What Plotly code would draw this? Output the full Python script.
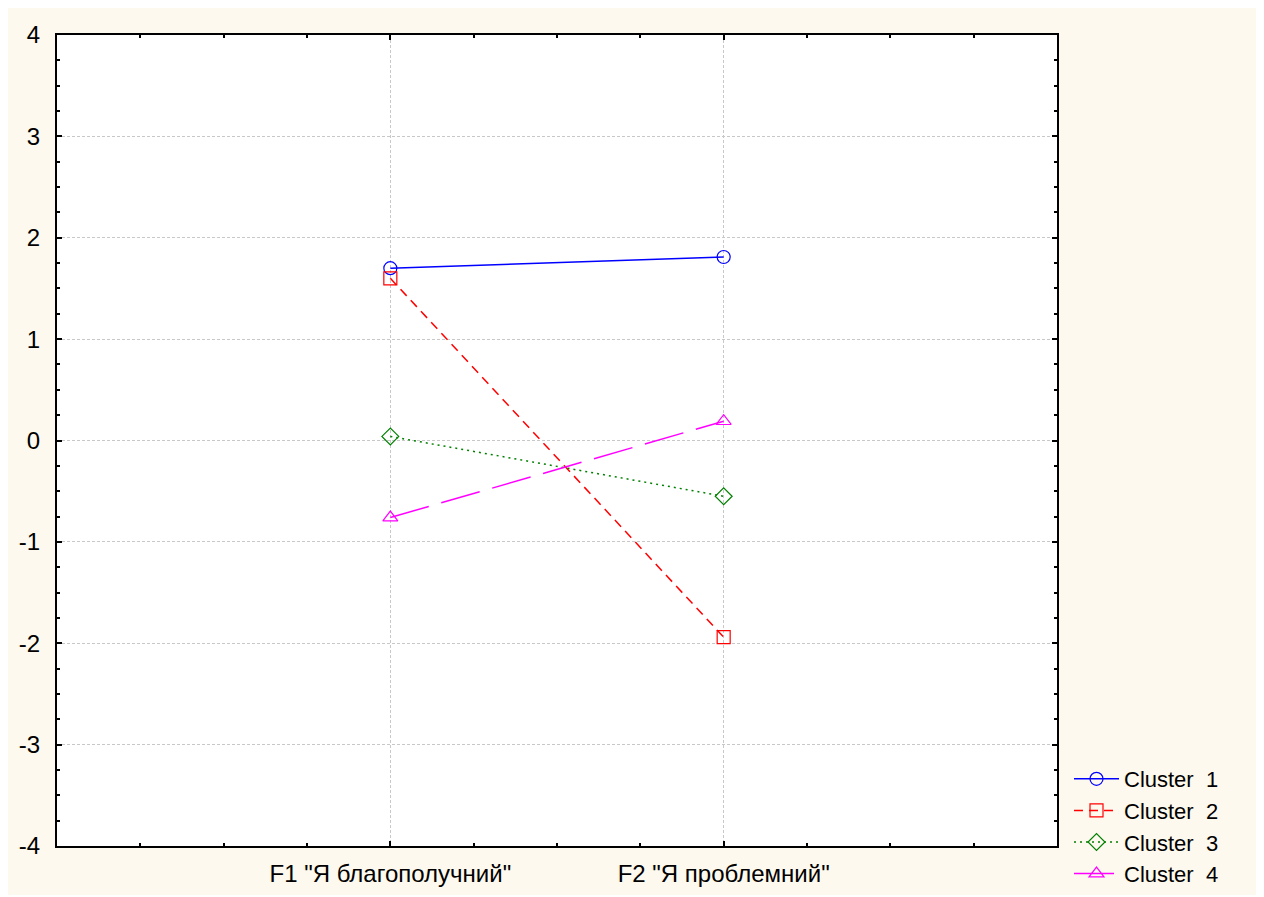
import plotly.graph_objects as go

categories = ['F1 "Я благополучний"', 'F2 "Я проблемний"']
cluster_names = ["Cluster  1", "Cluster  2", "Cluster  3", "Cluster  4"]
cluster1 = [1.70, 1.81]
cluster2 = [1.60, -1.94]
cluster3 = [0.04, -0.55]
cluster4 = [-0.76, 0.19]
y_ticks = [-4, -3, -2, -1, 0, 1, 2, 3, 4]
y_tick_labels = ["-4", "-3", "-2", "-1", "0", "1", "2", "3", "4"]

series = [cluster1, cluster2, cluster3, cluster4]
colors = ["#0000ff", "#ff0000", "#008000", "#ff00ff"]
dashes = ["solid", "9px,6px", "2px,4px", "40px,13px"]
symbols = ["circle-open", "square-open", "diamond-open", "triangle-up-open"]

xpos = list(range(len(categories)))

fig = go.Figure()
for name, vals, c, d, s in zip(cluster_names, series, colors, dashes, symbols):
    fig.add_trace(go.Scatter(
        x=xpos, y=vals, name=name, mode="lines+markers",
        line=dict(color=c, width=1.5, dash=d),
        marker=dict(symbol=s, size=13, color=c, line=dict(width=1.2, color=c)),
    ))

# page has an 8px body margin; figure is placed at (8, 8)
W, H = 1250, 887
L, R, T, B = 49, 201, 27, 49
pw, ph = W - L - R, H - T - B

def px_x(p):
    return (p - 8 - L) / pw

def px_y(p):
    return (H - B - (p - 8)) / ph

cream = "#fdf9ee"
fig.update_layout(
    width=W, height=H,
    margin=dict(l=L, r=R, t=T, b=B, pad=0, autoexpand=False),
    paper_bgcolor=cream,
    plot_bgcolor="white",
    font=dict(family="Arial, Liberation Sans, sans-serif", size=24, color="black"),
    showlegend=True,
    legend=dict(
        x=px_x(1069), y=px_y(895), xanchor="left", yanchor="bottom",
        bgcolor="rgba(0,0,0,0)", font=dict(size=22),
        itemwidth=45, tracegroupgap=0,
    ),
)

fig.update_xaxes(
    range=[-1, 2], tickvals=xpos, ticktext=categories, automargin=False,
    showgrid=True, gridcolor="#c8c8c8", griddash="3px,2px", gridwidth=1,
    showline=True, linecolor="black", linewidth=2, mirror="ticks",
    ticks="inside", ticklen=5, tickcolor="black", tickwidth=2,
    ticklabelstandoff=5,
    minor=dict(dtick=0.25, tick0=0, ticks="inside", ticklen=3, tickcolor="black", showgrid=False),
    zeroline=False,
)
fig.update_yaxes(
    range=[-4, 4], tickvals=y_ticks, ticktext=y_tick_labels, automargin=False,
    showgrid=True, gridcolor="#c8c8c8", griddash="3px,2px", gridwidth=1,
    showline=True, linecolor="black", linewidth=2, mirror="ticks",
    ticks="inside", ticklen=5, tickcolor="black", tickwidth=2,
    ticklabelstandoff=10,
    minor=dict(dtick=0.25, tick0=0, ticks="inside", ticklen=3, tickcolor="black", showgrid=False),
    zeroline=False,
)

fig.write_html("out.html")
